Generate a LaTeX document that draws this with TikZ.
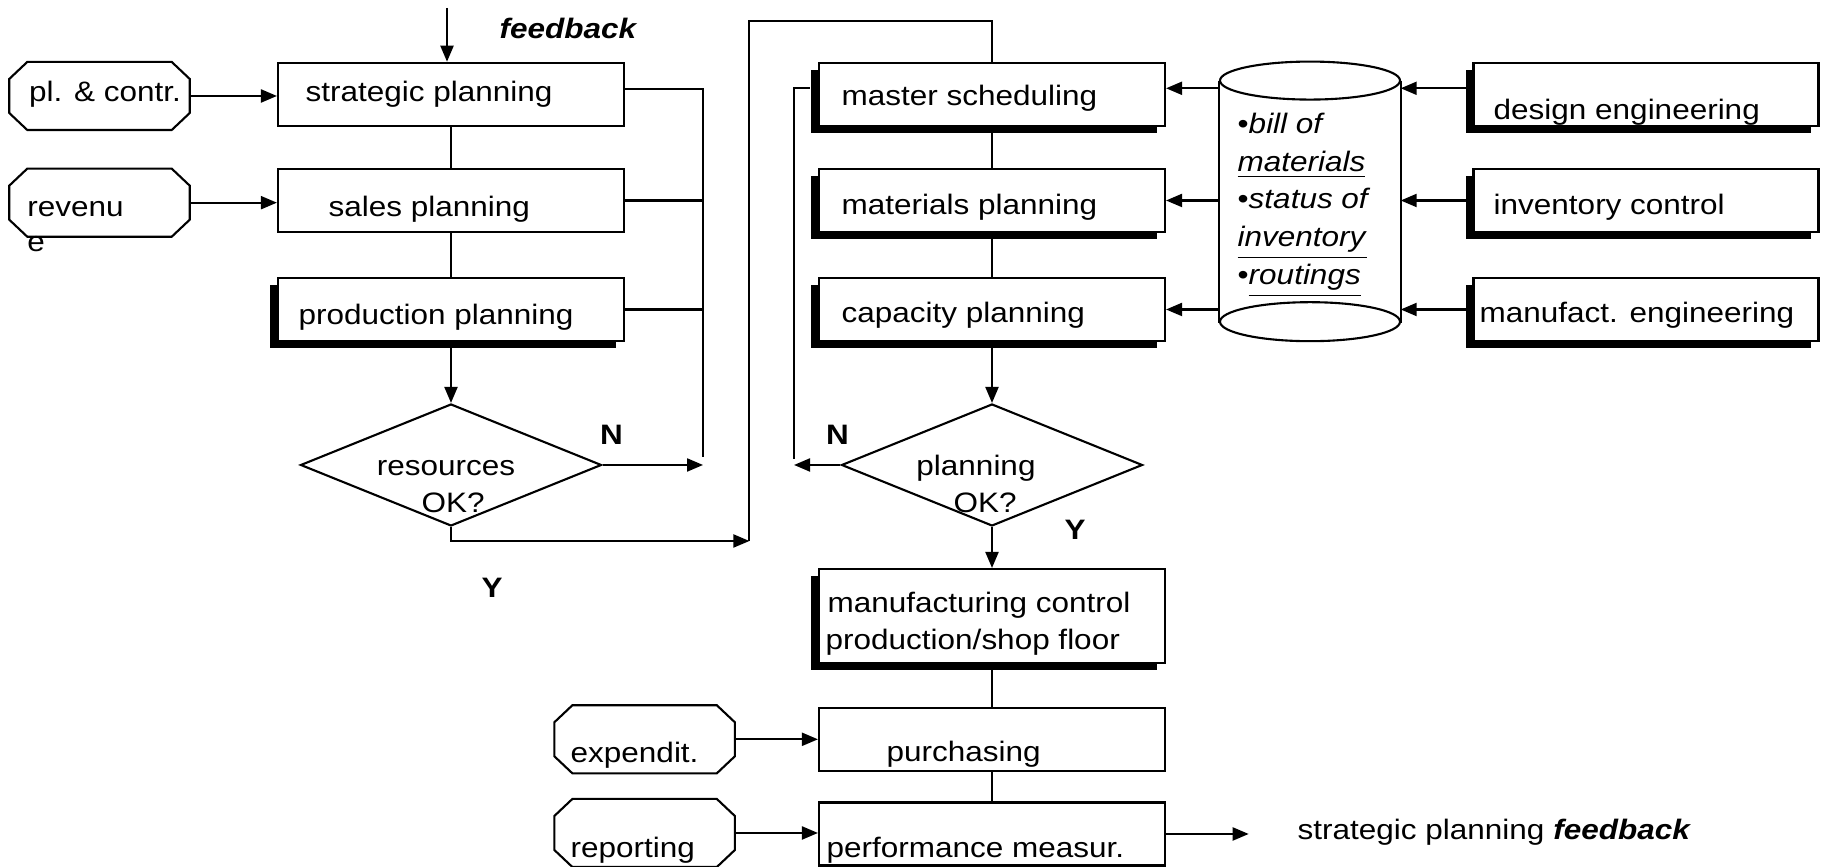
\documentclass[tikz,border=0pt]{standalone}
\usepackage{fontspec}
\setmainfont{Liberation Sans}[FakeStretch=1.12]
\usetikzlibrary{arrows.meta,shapes.geometric,shadows,calc}
\tikzset{
  box/.style={draw,fill=white,line width=0.6pt,minimum width=3.46cm,minimum height=0.63cm,inner sep=0pt},
  dropbox/.style={box,drop shadow={shadow xshift=-0.08cm,shadow yshift=-0.075cm,opacity=1,fill=black}},
  oct/.style={minimum width=1.79cm,minimum height=0.667cm,inner sep=0pt},
  dia/.style={draw,diamond,line width=0.6pt,minimum width=3.01cm,minimum height=1.22cm,inner sep=0pt},
  lbl/.style={anchor=base west,inner sep=0pt},
  lblc/.style={anchor=base,inner sep=0pt},
  arr/.style={line width=0.6pt,-{Triangle[length=1.6mm,width=1.3mm]}},
  link/.style={line width=0.6pt},
  tie/.style={line width=0.4pt}
}
\newcommand\octbox[1]{%
  \draw[line width=0.6pt] ([xshift=0.18cm]#1.north west) -- ([xshift=-0.18cm]#1.north east)
    -- ([yshift=-0.17cm]#1.north east) -- ([yshift=0.17cm]#1.south east)
    -- ([xshift=-0.18cm]#1.south east) -- ([xshift=0.18cm]#1.south west)
    -- ([yshift=0.17cm]#1.south west) -- ([yshift=-0.17cm]#1.north west) -- cycle;}
\begin{document}
\begin{tikzpicture}[font=\fontsize{8}{10.8}\selectfont]
  \useasboundingbox (0,0) rectangle (18.22,8.67);
  % boxes
  \node[box] (strat) at (4.51,7.727) {};
  \node[box] (sales) at (4.51,6.665) {};
  \node[dropbox] (prod) at (4.51,5.575) {};
  \node[dia] (res) at (4.51,4.02) {};
  \node[dropbox] (ms) at (9.92,7.727) {};
  \node[dropbox] (matp) at (9.92,6.665) {};
  \node[dropbox] (cap) at (9.92,5.575) {};
  \node[dia] (plan) at (9.92,4.02) {};
  \node[dropbox,minimum height=0.94cm] (mfg) at (9.92,2.51) {};
  \node[box] (purch) at (9.92,1.275) {};
  \node[box] (perf) at (9.92,0.33) {};
  \node[dropbox,minimum width=3.45cm] (des) at (16.46,7.727) {};
  \node[dropbox,minimum width=3.45cm] (inv) at (16.46,6.665) {};
  \node[dropbox,minimum width=3.45cm] (man) at (16.46,5.575) {};
  % octagons
  \node[oct] (pc) at (0.995,7.71) {}; \octbox{pc}
  \node[oct] (rev) at (0.995,6.643) {}; \octbox{rev}
  \node[oct] (exp) at (6.446,1.277) {}; \octbox{exp}
  \node[oct] (rep) at (6.446,0.34) {}; \octbox{rep}
  % database
  \node[minimum width=1.8cm,minimum height=2.397cm,inner sep=0pt] (db) at (13.1,6.6585) {};
  \draw[link,fill=white] (db.north west) -- (db.south west) -- (db.south east) -- (db.north east);
  \draw[link,fill=white] (db.north) ellipse (0.9cm and 0.19cm);
  \draw[link,fill=white] (db.south) ellipse (0.9cm and 0.195cm);
  \node[anchor=north west,inner sep=0pt,align=left] (db-t) at (12.37,7.55)
    {\textbullet\textit{bill of}\\\underline{\textit{materials}}\\\textbullet\textit{status of}\\
     \underline{\textit{inventory}}\\\textbullet\underline{\textit{routings}}};
  % left column
  \coordinate (fbin) at (4.47,8.59);
  \draw[arr] (fbin) -- (fbin |- strat.north);
  \draw[arr] (pc.east) -- (pc.east -| strat.west);
  \draw[arr] (rev.east) -- (rev.east -| sales.west);
  \draw[tie] (strat.south) -- (sales.north);
  \draw[tie] (sales.south) -- (prod.north);
  \draw[arr] (prod.south) -- (res.north);
  \coordinate (busT) at (7.03,7.777);
  \coordinate (busB) at (7.03,4.10);
  \draw[link] (strat.east |- busT) -- (busT) -- (busB);
  \draw[link] (sales.east) -- (sales.east -| busT);
  \draw[link] (prod.east) -- (prod.east -| busT);
  \draw[arr] (res.east) -- (res.east -| busT);
  \coordinate (jmpB) at (7.494,3.26);
  \coordinate (jmpT) at (7.494,8.463);
  \draw[arr] (res.south) |- (jmpB);
  \draw[link] (jmpB) -- (jmpT) -| (ms.north);
  % middle column
  \draw[tie] (ms.south) -- (matp.north);
  \draw[tie] (matp.south) -- (cap.north);
  \draw[arr] (cap.south) -- (plan.north);
  \coordinate (retT) at (7.94,7.787);
  \coordinate (retB) at (7.94,4.08);
  \coordinate (msin) at ([xshift=-0.08cm]ms.west);
  \draw[arr] (plan.west) -- (plan.west -| retB);
  \draw[link] (retB) -- (retT) -- (msin |- retT);
  \draw[arr] (plan.south) -- (mfg.north);
  \draw[tie] (mfg.south) -- (purch.north);
  \draw[tie] (purch.south) -- (perf.north);
  \draw[arr] (exp.east) -- (exp.east -| purch.west);
  \draw[arr] (rep.east) -- (rep.east -| perf.west);
  \coordinate (fbout) at (12.487,0.33);
  \draw[arr] (perf.east) -- (fbout);
  % database links
  \coordinate (r1) at ([yshift=0.06cm]ms.east);
  \coordinate (q1) at ([yshift=0.06cm]des.west);
  \draw[arr] (r1 -| db.west) -- (r1);
  \draw[arr] (matp.east -| db.west) -- (matp.east);
  \draw[arr] (cap.east -| db.west) -- (cap.east);
  \draw[arr] (q1) -- (q1 -| db.east);
  \draw[arr] (inv.west) -- (inv.west -| db.east);
  \draw[arr] (man.west) -- (man.west -| db.east);
  % labels
  \node[lbl] (fb-l) at (4.99,8.287) {\bfseries\itshape feedback};
  \node[lbl] (strat-t) at (3.05,7.653) {strategic planning};
  \node[lbl] (sales-t) at (3.28,6.503) {sales planning};
  \node[lbl] (prod-t) at (2.98,5.42) {production planning};
  \node[lbl] (pc-t) at (0.284,7.653) {pl. \& contr.};
  \node[lbl] (rev-t1) at (0.266,6.503) {revenu};
  \node[lbl] (rev-t2) at (0.266,6.153) {e};
  \node[lblc] (res-t1) at (4.46,3.91) {resources};
  \node[lblc] (res-t2) at (4.53,3.54) {OK?};
  \node[lblc] (res-n) at (6.116,4.22) {\bfseries N};
  \node[lblc] (res-y) at (4.92,2.69) {\bfseries Y};
  \node[lbl] (ms-t) at (8.41,7.61) {master scheduling};
  \node[lbl] (matp-t) at (8.41,6.52) {materials planning};
  \node[lbl] (cap-t) at (8.41,5.44) {capacity planning};
  \node[lblc] (plan-t1) at (9.76,3.91) {planning};
  \node[lblc] (plan-t2) at (9.85,3.54) {OK?};
  \node[lblc] (plan-n) at (8.375,4.22) {\bfseries N};
  \node[lblc] (plan-y) at (10.75,3.27) {\bfseries Y};
  \node[lbl] (mfg-t1) at (8.27,2.54) {manufacturing control};
  \node[lbl] (mfg-t2) at (8.25,2.17) {production/shop floor};
  \node[lbl] (purch-t) at (8.86,1.053) {purchasing};
  \node[lbl] (exp-t) at (5.70,1.047) {expendit.};
  \node[lbl] (perf-t) at (8.26,0.09) {performance measur.};
  \node[lbl] (rep-t) at (5.70,0.09) {reporting};
  \node[lbl] (fb-t) at (12.97,0.27) {strategic planning \textbf{\textit{feedback}}};
  \node[lbl] (des-t) at (14.93,7.47) {design engineering};
  \node[lbl] (inv-t) at (14.93,6.52) {inventory control};
  \node[lbl] (man-t) at (14.79,5.44) {manufact. engineering};
\end{tikzpicture}
\end{document}
